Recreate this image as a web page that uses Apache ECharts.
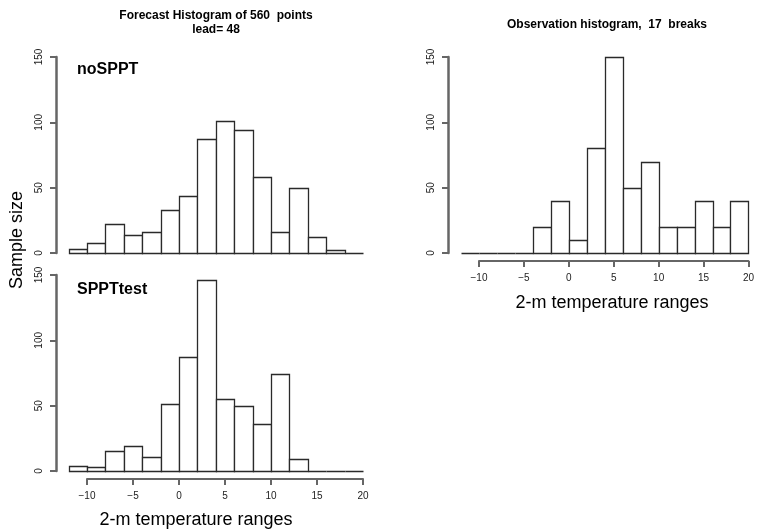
<!DOCTYPE html>
<html><head><meta charset="utf-8">
<script src="https://cdn.jsdelivr.net/npm/echarts@6/dist/echarts.min.js"></script>
<style>html,body{margin:0;padding:0;background:#fff}#c{width:757px;height:529px}</style>
</head><body><div id="c"></div>
<script>
// bin edges shared by all three histograms
const breaks = [-12,-10,-8,-6,-4,-2,0,2,4,6,8,10,12,14,16,18,20];
const noSPPT = [3,8,22,14,16,33,44,87,101,94,58,16,50,12,2,0];
const SPPTtest = [4,3,15,19,11,51,87,146,55,50,36,74,9,0,0,0];
const observed = [0,0,0,0,20,40,10,80,150,50,70,20,20,40,20,40];
const xTickMin = -10, xTickMax = 20, xTickStep = 5;
const yTickMin = 0, yTickMax = 150, yTickStep = 50;

const FONT = 'Liberation Sans, Arial, Helvetica, sans-serif';
const AXIS_COLOR = '#666';
const BAR_COLOR = '#2a2a2a';

function bins(counts){
  return counts.map((c,i)=>[breaks[i], breaks[i+1], c]);
}
function renderBar(params, api){
  const p0 = api.coord([api.value(0), api.value(2)]);
  const p1 = api.coord([api.value(1), 0]);
  const x0 = Math.round(p0[0]) + 0.5, x1 = Math.round(p1[0]) + 0.5;
  const y0 = Math.round(p0[1]) + 0.5, y1 = Math.round(p1[1]) + 0.5;
  return {type:'rect', shape:{x:x0, y:y0, width:x1-x0, height:y1-y0},
    style:{fill:'#fff', stroke:BAR_COLOR, lineWidth:1.3}};
}
const grids = [
  {left:87, width:276, top:57, height:196},
  {left:87, width:276, top:275, height:196},
  {left:479, width:276, top:57, height:196}
];
function xAxisFor(i, show){
  return {type:'value', gridIndex:i, min:xTickMin, max:xTickMax, interval:xTickStep, show:show,
    offset:8,
    axisLine:{show:true, onZero:false, lineStyle:{color:AXIS_COLOR, width:2}},
    axisTick:{show:true, length:6, lineStyle:{color:AXIS_COLOR, width:2}},
    axisLabel:{margin:12, fontSize:10, color:'#222', fontFamily:FONT,
      formatter:v=>String(v).replace('-', '\u2212')},
    splitLine:{show:false}};
}
function yAxisFor(i){
  return {type:'value', gridIndex:i, min:yTickMin, max:yTickMax, interval:yTickStep,
    offset:31, z:10,
    axisLine:{show:true, onZero:false, lineStyle:{color:AXIS_COLOR, width:2.5}},
    axisTick:{show:true, length:6, lineStyle:{color:AXIS_COLOR, width:2}},
    axisLabel:{rotate:90, margin:12, fontSize:10, color:'#222', fontFamily:FONT},
    splitLine:{show:false}};
}
function txt(x, y, text, size, bold, rot){
  return {type:'text', x:x, y:y, rotation:rot||0,
    style:{text:text, fontSize:size, fontWeight:bold?'bold':'normal', fontFamily:FONT,
      fill:'#000', align:'center', verticalAlign:'middle'}};
}
const chart = echarts.init(document.getElementById('c'), null, {renderer:'canvas'});
chart.setOption({
  animation:false,
  backgroundColor:'#fff',
  grid:grids,
  xAxis:[xAxisFor(0,false), xAxisFor(1,true), xAxisFor(2,true)],
  yAxis:[yAxisFor(0), yAxisFor(1), yAxisFor(2)],
  series:[
    {type:'custom', xAxisIndex:0, yAxisIndex:0, clip:false, renderItem:renderBar, data:bins(noSPPT)},
    {type:'custom', xAxisIndex:1, yAxisIndex:1, clip:false, renderItem:renderBar, data:bins(SPPTtest)},
    {type:'custom', xAxisIndex:2, yAxisIndex:2, clip:false, renderItem:renderBar, data:bins(observed)}
  ],
  graphic:[
    txt(216, 16, 'Forecast Histogram of 560  points', 12, true),
    txt(216, 30, 'lead= 48', 12, true),
    txt(607, 25, 'Observation histogram,  17  breaks', 12, true),
    {type:'text', x:77, y:70, style:{text:'noSPPT', fontSize:16, fontWeight:'bold', fontFamily:FONT, fill:'#000', align:'left', verticalAlign:'middle'}},
    {type:'text', x:77, y:290, style:{text:'SPPTtest', fontSize:16, fontWeight:'bold', fontFamily:FONT, fill:'#000', align:'left', verticalAlign:'middle'}},
    txt(17, 240, 'Sample size', 18, false, Math.PI/2),
    txt(196, 520, '2-m temperature ranges', 18, false),
    txt(612, 303, '2-m temperature ranges', 18, false)
  ]
});
</script></body></html>
